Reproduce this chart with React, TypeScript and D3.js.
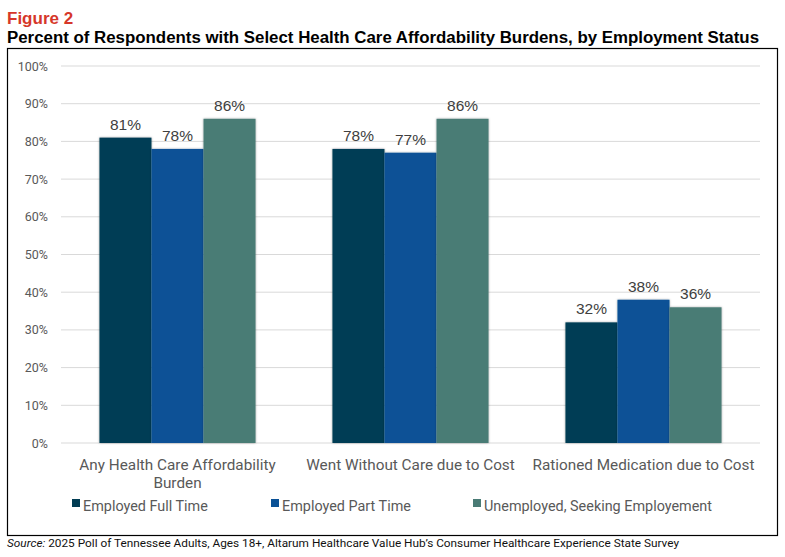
import * as d3 from 'd3';

const categories = ['Any Health Care Affordability Burden', 'Went Without Care due to Cost', 'Rationed Medication due to Cost'];
const categoryLines = [['Any Health Care Affordability', 'Burden'], ['Went Without Care due to Cost'], ['Rationed Medication due to Cost']];
const seriesNames = ['Employed Full Time', 'Employed Part Time', 'Unemployed, Seeking Employement'];
const fullTime = [81, 78, 32];
const partTime = [78, 77, 38];
const unemployed = [86, 86, 36];
const yTicks = [0, 10, 20, 30, 40, 50, 60, 70, 80, 90, 100];
const colors = ['#023d54', '#0a5196', '#4a7b75'];

const series = [fullTime, partTime, unemployed];

export default function App() {
  const W = 785, H = 557;
  const left = 61, right = 760, top = 66, bottom = 443;
  const x0 = d3.scaleBand<string>().domain(categories).range([left, right]).paddingInner(0.33).paddingOuter(0.165);
  const x1 = d3.scaleBand<string>().domain(seriesNames).range([0, x0.bandwidth()]);
  const y = d3.scaleLinear().domain([0, 100]).range([bottom, top]);
  const axisFont = 'Roboto, "Liberation Sans", sans-serif';
  const legendX = [72, 271, 473];

  return (
    <svg width={W} height={H} style={{ position: 'absolute', left: 0, top: 0, background: '#fff' }}>
      <defs>
        <filter id="shadow" x="-10%" y="-10%" width="120%" height="120%">
          <feDropShadow dx="0" dy="0" stdDeviation="1.2" floodColor="#000" floodOpacity="0.35" />
        </filter>
      </defs>
      <text x={7} y={24} fill="#d6372a" fontFamily='"Liberation Sans", Arial, sans-serif' fontWeight="bold" fontSize={17}>Figure 2</text>
      <text x={7} y={43} fill="#000" fontFamily='"Liberation Sans", Arial, sans-serif' fontWeight="bold" fontSize={16}
        textLength={752} lengthAdjust="spacingAndGlyphs">Percent of Respondents with Select Health Care Affordability Burdens, by Employment Status</text>
      <rect x={7.5} y={48.5} width={770} height={487} fill="none" stroke="#000" strokeWidth={1.2} />

      {/* gridlines + y labels */}
      {yTicks.map(t => (
        <g key={t}>
          <line x1={left} x2={right} y1={y(t)} y2={y(t)} stroke="#d9d9d9" strokeWidth={1} />
          <text x={48} y={y(t) + 4.5} textAnchor="end" fill="#595959" fontSize={12.5} fontFamily={axisFont}>{t}%</text>
        </g>
      ))}

      {/* bars */}
      {categories.map((c, ci) => (
        <g key={c} transform={`translate(${x0(c)},0)`}>
          {seriesNames.map((s, si) => (
            <rect key={s} x={x1(s)} y={y(series[si][ci])} width={x1.bandwidth()} height={bottom - y(series[si][ci])}
              fill={colors[si]} filter="url(#shadow)" />
          ))}
          {seriesNames.map((s, si) => (
            <text key={s + 'l'} x={x1(s)! + x1.bandwidth() / 2} y={y(series[si][ci]) - 8} textAnchor="middle"
              fill="#404040" fontSize={15.5} fontFamily='"Liberation Sans", Arial, sans-serif'>{series[si][ci]}%</text>
          ))}
        </g>
      ))}

      {/* category labels */}
      {categories.map((c, ci) => (
        <text key={c} x={x0(c)! + x0.bandwidth() / 2} y={470} textAnchor="middle" fill="#595959" fontSize={15.3} fontFamily={axisFont}>
          {categoryLines[ci].map((l, li) => <tspan key={li} x={x0(c)! + x0.bandwidth() / 2} dy={li === 0 ? 0 : 18}>{l}</tspan>)}
        </text>
      ))}

      {/* legend */}
      {seriesNames.map((s, si) => (
        <g key={s} transform={`translate(${legendX[si]},506)`}>
          <rect x={0} y={-7} width={8} height={8} fill={colors[si]} />
          <text x={11} y={0} dy="0.32em" fill="#595959" fontSize={14.4} fontFamily={axisFont}>{s}</text>
        </g>
      ))}

      <text x={7} y={547} fill="#111" fontSize={11.8} fontFamily={axisFont}>
        <tspan fontStyle="italic">Source:</tspan> 2025 Poll of Tennessee Adults, Ages 18+, Altarum Healthcare Value Hub’s Consumer Healthcare Experience State Survey
      </text>
    </svg>
  );
}
